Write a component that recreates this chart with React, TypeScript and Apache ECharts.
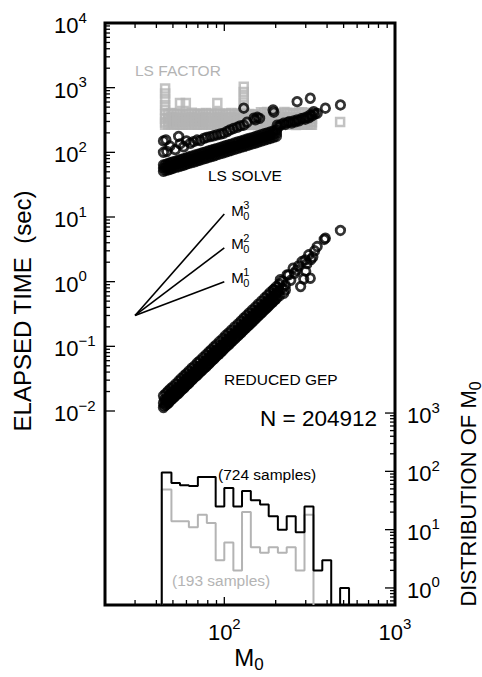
import React, { useEffect, useRef } from 'react';
import * as echarts from 'echarts';

const FONT = '"Liberation Sans", Arial, Helvetica, sans-serif';
const GRAY = '#b4b4b4';

// ---- axis extents ----
const X_MIN = 20;
const X_MAX = 1000;
const T_MIN = 1e-5;
const T_MAX = 1e4;
const D_MIN = 0.51;
const D_MAX = 4.9e9;

const timeLabelExps = [-2, -1, 0, 1, 2, 3, 4];
const distLabelExps = [0, 1, 2, 3];
const m0LabelExps = [2, 3];

const decadeMultipliers = [1, 2, 3, 4, 5, 6, 7, 8, 9];
const xTickDecades = [10, 100];
const timeTickDecades = [0.01, 0.1, 1, 10, 100, 1000];
const distTickDecades = [0.1, 1, 10, 100];

// ---- LS FACTOR (gray squares): columns of [M0, times...] ----
const lsFactorColumns: [number, number[]][] = [
  [45, [970, 810, 660, 540, 450, 385, 330, 290, 268]],
  [47, [395, 340, 300, 270]],
  [49, [405, 350, 305, 272]],
  [51, [390, 335, 298, 268]],
  [53, [400, 345, 302, 270]],
  [55, [580, 395, 338, 298, 267]],
  [57, [385, 332, 295, 268]],
  [59.5, [580, 400, 345, 300, 270]],
  [62, [390, 335, 298, 266]],
  [64.5, [410, 350, 305, 272]],
  [67, [395, 340, 300, 268]],
  [69.5, [385, 332, 296, 267]],
  [72, [400, 345, 302, 270]],
  [75, [390, 336, 298, 266]],
  [78, [405, 348, 304, 271]],
  [81, [392, 338, 297, 268]],
  [84, [400, 344, 300, 269]],
  [87.5, [388, 334, 296, 266]],
  [91, [580, 405, 348, 303, 270]],
  [94.5, [395, 340, 299, 268]],
  [98, [385, 332, 295, 266]],
  [102, [400, 345, 302, 270]],
  [106, [392, 337, 297, 267]],
  [110, [405, 348, 304, 271]],
  [115, [388, 334, 296, 266]],
  [120, [398, 342, 300, 269]],
  [125, [390, 336, 297, 267]],
  [130, [1030, 860, 710, 590, 490, 405, 345, 302, 270]],
  [135, [380, 328, 292, 266]],
  [140, [392, 337, 297, 268]],
  [146, [378, 326, 290, 265]],
  [152, [388, 334, 295, 267]],
  [158, [375, 325, 289, 265]],
  [164, [415, 350, 302, 270]],
  [171, [405, 345, 298, 267]],
  [178, [420, 352, 304, 270]],
  [185, [398, 338, 295, 266]],
  [192, [385, 330, 292, 265]],
  [200, [395, 336, 294, 266]],
  [208, [380, 326, 290, 264]],
  [216, [402, 340, 296, 267]],
  [225, [420, 352, 302, 270]],
  [234, [410, 346, 299, 267]],
  [243, [398, 338, 295, 266]],
  [253, [405, 342, 297, 267]],
  [263, [395, 336, 294, 265]],
  [274, [412, 348, 300, 268]],
  [285, [418, 352, 302, 270]],
  [296, [402, 340, 296, 267]],
  [308, [410, 346, 299, 268]],
  [320, [400, 340, 296, 267]],
  [326, [385, 330, 292, 266]],
  [477, [295]],
];

// ---- LS SOLVE (black circles) ----
const lsSolveBand = [
  [44, 64], [44, 51], [45.5, 65], [45.5, 52.5], [47, 67.5], [47, 53.5], [48.5, 69], [48.5, 55],
  [50, 71], [50, 56.5], [52, 73], [52, 58.5], [54, 75.5], [54, 60], [56, 77.5], [56, 62],
  [58, 80], [58, 63.5], [60, 82], [60, 65.5], [62, 84.5], [62, 67.5], [64.5, 87], [64.5, 69.5],
  [67, 90], [67, 71.5], [69.5, 92.5], [69.5, 74], [72, 95], [72, 76], [75, 98.5], [75, 78.5],
  [78, 101.5], [78, 81], [81, 105], [81, 83.5], [84, 108], [84, 86], [87, 111], [87, 88.5],
  [90, 114], [90, 91], [94, 118], [94, 94.5], [98, 122], [98, 97.5], [102, 126.5], [102, 101],
  [106, 130.5], [106, 104], [110, 134], [110, 107], [115, 139.5], [115, 111], [120, 144.5], [120, 115],
  [125, 149], [125, 119], [130, 154], [130, 123], [135, 159], [135, 126.5], [140, 163.5], [140, 130.5],
  [146, 169], [146, 135], [152, 174.5], [152, 139.5], [158, 181], [158, 144], [165, 187], [165, 149],
  [172, 194], [172, 154.5], [179, 200], [179, 159.5], [186, 206], [186, 164], [194, 213.5], [194, 170],
  [202, 220.5], [202, 176],
  [44, 57], [45.5, 58.6], [47, 60.1], [48.5, 61.7], [50, 63.2], [52, 65.3], [54, 67.3], [56, 69.4],
  [58, 71.4], [60, 73.4], [62, 75.4], [64.5, 77.8], [67, 80.2], [69.5, 82.7], [72, 85.1], [75, 88],
  [78, 90.8], [81, 93.7], [84, 96.5], [87, 99.3], [90, 102], [94, 105.7], [98, 109.3], [102, 113],
  [106, 116.6], [110, 120], [115, 124.5], [120, 129], [125, 133], [130, 137.6], [135, 141.9], [140, 146],
  [146, 151], [152, 156], [158, 161.5], [165, 167], [172, 173], [179, 178.6], [186, 184], [194, 190.7],
  [202, 197],
];
const lsSolveUpper = [
  [44, 100], [44, 150], [45.5, 156], [46, 103], [48, 125], [51.6, 110], [54, 176], [55, 135],
  [57.8, 122], [60, 150], [63.2, 138], [66, 146], [69.2, 155], [72.4, 152], [75.9, 164], [79, 170],
  [82.8, 175], [86.5, 180], [90.6, 186], [95, 192], [99, 197], [104, 210], [108, 222], [113, 233],
  [119, 244], [124, 256], [130, 263], [130, 481], [136, 292], [149, 337], [152, 318], [156, 348],
  [161, 335], [193, 452], [195, 417],
];
const lsSolveCluster = [
  [204, 263], [209, 250], [214, 268], [222, 281], [228, 270], [235, 290], [241, 298], [248, 284],
  [255, 305], [261, 296], [267, 317], [274, 308], [282, 330], [292, 337], [298, 325], [305, 352],
  [312, 342], [319, 378], [326, 365], [334, 426], [338, 390], [350, 400],
  [267, 608], [319, 686], [391, 481], [479, 541],
];

// ---- REDUCED GEP (black circles) ----
const reducedGepBand = [
  [44, 0.0172], [44, 0.0113], [45.5, 0.0188], [45.5, 0.0124], [47, 0.0205], [47, 0.0132],
  [48.5, 0.0222], [48.5, 0.0146], [50, 0.0238], [50, 0.0157], [52, 0.0262], [52, 0.0175],
  [54, 0.029], [54, 0.0188], [56, 0.0318], [56, 0.0209], [58, 0.035], [58, 0.0226],
  [60, 0.0378], [60, 0.025], [62, 0.0415], [62, 0.0268], [64.5, 0.046], [64.5, 0.03],
  [67, 0.05], [67, 0.033], [69.5, 0.0556], [69.5, 0.036], [72, 0.06], [72, 0.0395],
  [75, 0.067], [75, 0.044], [78, 0.074], [78, 0.0482], [81, 0.0815], [81, 0.053],
  [84, 0.089], [84, 0.0585], [87, 0.098], [87, 0.064], [90, 0.106], [90, 0.07],
  [94, 0.119], [94, 0.0775], [98, 0.132], [98, 0.087], [102, 0.148], [102, 0.096],
  [106, 0.161], [106, 0.105], [110, 0.178], [110, 0.117], [115, 0.199], [115, 0.13],
  [120, 0.221], [120, 0.145], [125, 0.246], [125, 0.16], [130, 0.272], [130, 0.179],
  [135, 0.299], [135, 0.195], [140, 0.328], [140, 0.215], [146, 0.365], [146, 0.238],
  [152, 0.405], [152, 0.265], [158, 0.448], [158, 0.293], [165, 0.498], [165, 0.325],
  [172, 0.558], [172, 0.365], [179, 0.615], [179, 0.402], [186, 0.68], [186, 0.445],
  [194, 0.755], [194, 0.495], [202, 0.835], [202, 0.548], [210, 0.92], [210, 0.605],
  [219, 1.02], [228, 0.745], [238, 1.27],
  [44, 0.0133], [45.5, 0.0144], [47, 0.0157], [48.5, 0.017], [50, 0.0184], [52, 0.0203],
  [54, 0.0223], [56, 0.0245], [58, 0.0268], [60, 0.0293], [62, 0.0318], [64.5, 0.0353],
  [67, 0.0388], [69.5, 0.0427], [72, 0.0466], [75, 0.0517], [78, 0.0571], [81, 0.0628],
  [84, 0.069], [87, 0.0758], [90, 0.0824], [94, 0.092], [98, 0.1026], [102, 0.114],
  [106, 0.1245], [110, 0.1378], [115, 0.154], [120, 0.171], [125, 0.19], [130, 0.211],
  [135, 0.231], [140, 0.254], [146, 0.282], [152, 0.314], [158, 0.347], [165, 0.385],
  [172, 0.431], [179, 0.476], [186, 0.525], [194, 0.584], [202, 0.647], [210, 0.714],
  [219, 0.793], [228, 0.883],
];
const reducedGepFill = [
  [44.7, 0.015], [44.7, 0.012], [46.2, 0.0163], [46.2, 0.013], [47.7, 0.0177], [47.7, 0.0141],
  [49.2, 0.0192], [49.2, 0.0153], [51, 0.0208], [51, 0.0166], [53, 0.0229], [53, 0.0183],
  [55, 0.0252], [55, 0.0201], [57, 0.0277], [57, 0.0221], [59, 0.0303], [59, 0.0241],
  [61, 0.0331], [61, 0.0264], [63.2, 0.0359], [63.2, 0.0286], [65.7, 0.0399], [65.7, 0.0318],
  [68.2, 0.0438], [68.2, 0.0349], [70.7, 0.0483], [70.7, 0.0384], [73.5, 0.0527], [73.5, 0.0419],
  [76.5, 0.0584], [76.5, 0.0465], [79.5, 0.0645], [79.5, 0.0514], [82.5, 0.071], [82.5, 0.0565],
  [85.5, 0.078], [85.5, 0.0621], [88.5, 0.0857], [88.5, 0.0682], [92, 0.0931], [92, 0.0742],
  [96, 0.104], [96, 0.0828], [100, 0.116], [100, 0.0923], [104, 0.129], [104, 0.1026],
  [108, 0.141], [108, 0.112], [112.5, 0.156], [112.5, 0.124], [117.5, 0.174], [117.5, 0.139],
  [122.5, 0.193], [122.5, 0.154], [127.5, 0.215], [127.5, 0.171], [132.5, 0.238], [132.5, 0.19],
  [137.5, 0.261], [137.5, 0.208], [143, 0.287], [143, 0.229], [149, 0.319], [149, 0.254],
  [155, 0.355], [155, 0.283], [161.5, 0.392], [161.5, 0.312], [168.5, 0.435], [168.5, 0.347],
  [175.5, 0.487], [175.5, 0.388], [182.5, 0.538], [182.5, 0.428], [190, 0.593], [190, 0.473],
  [198, 0.66], [198, 0.526], [206, 0.731],
];
const reducedGepSparse = [
  [253, 1.62], [258, 1.35], [265, 1.5], [272, 1.75], [280, 0.84], [286, 2.05], [292, 1.1],
  [298, 2.17], [300, 1.45], [305, 1.9], [312, 2.6], [319, 1.13], [322, 2.2], [330, 2.4],
  [338, 3.0], [350, 3.49], [385, 4.5], [391, 4.7], [479, 6.2], [233, 1.27], [213, 1.07],
  [195, 0.75], [223, 0.66], [245, 1.05],
];

// ---- slope guides ----
const slopeStart = [30, 0.3];
const slopePowers = [1, 2, 3];
const slopeEnds = [[100, 1.0], [100, 3.33], [100, 11.1]];

// ---- histograms of M0 ----
const binEdges = [43, 49, 55, 62, 70, 79, 89, 100, 113, 127, 143, 162, 182, 206, 232, 262, 295, 333, 375, 423, 477, 538];
const countsAll = [96, 63, 58, 56, 80, 80, 25, 52, 25, 46, 32, 27, 17, 10, 17, 9, 25, 2, 3, 0, 1];
const countsSub = [49, 14, 14, 11, 18, 13, 3, 6, 2, 20, 5, 4, 5, 4, 5, 2, 18, 0, 0, 0, 0];

function stepOutline(edges: number[], counts: number[], floor: number) {
  let last = counts.length - 1;
  while (last >= 0 && counts[last] === 0) last--;
  const pts: number[][] = [[edges[0], floor]];
  for (let i = 0; i <= last; i++) {
    const c = counts[i] > 0 ? counts[i] : floor;
    pts.push([edges[i], c], [edges[i + 1], c]);
  }
  pts.push([edges[last + 1], floor]);
  return pts;
}

function tickValues(decades: number[]) {
  const out: number[] = [];
  decades.forEach((d) => decadeMultipliers.forEach((m) => out.push(+(d * m).toPrecision(6))));
  return out;
}

function isDecade(v: number) {
  const l = Math.log10(v);
  return Math.abs(l - Math.round(l)) < 1e-6;
}

const powRich = {
  b: { fontSize: 22, fontFamily: FONT, color: '#000', verticalAlign: 'bottom' },
  s: { fontSize: 15, fontFamily: FONT, color: '#000', verticalAlign: 'bottom', padding: [0, 0, 12, 0] },
};
function powFormatter(allowed: number[]) {
  return (v: number) => {
    const l = Math.log10(v);
    const e = Math.round(l);
    if (Math.abs(l - e) > 1e-6 || allowed.indexOf(e) < 0) return '';
    return `{b|10}{s|${e < 0 ? '\u2212' + -e : e}}`;
  };
}

const tickStyle = { stroke: '#000', lineWidth: 1.3 };

function buildOption() {
  const lsFactor: number[][] = [];
  lsFactorColumns.forEach(([m, ts]) => ts.forEach((t) => lsFactor.push([m, t])));
  const lsSolve = [...lsSolveBand, ...lsSolveUpper, ...lsSolveCluster];
  const reducedGep = [...reducedGepBand, ...reducedGepFill, ...reducedGepSparse];
  const circleStyle = { color: 'rgba(0,0,0,0)', borderColor: '#000', borderWidth: 2.8 };

  const xTicks = tickValues(xTickDecades).filter((v) => v > X_MIN && v < X_MAX);
  const tTicks = [...tickValues(timeTickDecades), 10000];
  const dTicks = [...tickValues(distTickDecades).filter((v) => v > D_MIN), 1000];

  const series: any[] = [
    {
      type: 'scatter', data: lsFactor, symbol: 'rect', symbolSize: 8, silent: true, z: 2,
      itemStyle: { color: 'rgba(0,0,0,0)', borderColor: GRAY, borderWidth: 2.5 },
    },
    { type: 'scatter', data: lsSolve, symbol: 'circle', symbolSize: 8.5, silent: true, z: 3, itemStyle: circleStyle },
    { type: 'scatter', data: reducedGep, symbol: 'circle', symbolSize: 8.5, silent: true, z: 3, itemStyle: circleStyle },
  ];
  slopeEnds.forEach((end) => {
    series.push({
      type: 'line', data: [slopeStart, end], symbol: 'none', silent: true, z: 3,
      lineStyle: { color: '#000', width: 1.6 },
    });
  });
  series.push(
    {
      type: 'line', yAxisIndex: 1, data: stepOutline(binEdges, countsSub, D_MIN), symbol: 'none', silent: true, z: 3,
      lineStyle: { color: GRAY, width: 2 },
    },
    {
      type: 'line', yAxisIndex: 1, data: stepOutline(binEdges, countsAll, D_MIN), symbol: 'none', silent: true, z: 4,
      lineStyle: { color: '#000', width: 2 },
    },
    {
      // bottom & top minor/major ticks of M0 axis
      type: 'custom', xAxisIndex: 0, yAxisIndex: 0, silent: true, clip: false, z: 10,
      data: xTicks.map((v) => [v, 1]),
      renderItem: (params: any, api: any) => {
        const cs = params.coordSys;
        const v = api.value(0);
        const px = api.coord([v, 1])[0];
        const len = isDecade(v) ? 8 : 5;
        const yb = cs.y + cs.height;
        return {
          type: 'group',
          children: [
            { type: 'line', shape: { x1: px, y1: yb, x2: px, y2: yb - len }, style: tickStyle },
            { type: 'line', shape: { x1: px, y1: cs.y, x2: px, y2: cs.y + len }, style: tickStyle },
          ],
        };
      },
    },
    {
      // left ticks of time axis
      type: 'custom', xAxisIndex: 0, yAxisIndex: 0, silent: true, clip: false, z: 10,
      data: tTicks.map((v) => [100, v]),
      renderItem: (params: any, api: any) => {
        const cs = params.coordSys;
        const v = api.value(1);
        const py = api.coord([100, v])[1];
        const len = isDecade(v) ? 10 : 5;
        return { type: 'line', shape: { x1: cs.x, y1: py, x2: cs.x + len, y2: py }, style: tickStyle };
      },
    },
    {
      // right ticks of distribution axis
      type: 'custom', xAxisIndex: 0, yAxisIndex: 1, silent: true, clip: false, z: 10,
      data: dTicks.map((v) => [100, v]),
      renderItem: (params: any, api: any) => {
        const cs = params.coordSys;
        const v = api.value(1);
        const py = api.coord([100, v])[1];
        const len = isDecade(v) ? 10 : 5;
        const xr = cs.x + cs.width;
        return { type: 'line', shape: { x1: xr, y1: py, x2: xr - len, y2: py }, style: tickStyle };
      },
    },
  );

  return {
    animation: false,
    backgroundColor: '#fff',
    grid: { left: 105, top: 23, width: 290, height: 582, show: true, borderColor: '#000', borderWidth: 3, backgroundColor: 'rgba(0,0,0,0)' },
    xAxis: {
      type: 'log', logBase: 10, min: X_MIN, max: X_MAX, splitNumber: 2,
      axisLine: { show: false }, axisTick: { show: false }, splitLine: { show: false },
      axisLabel: { formatter: powFormatter(m0LabelExps), rich: powRich, margin: 11, showMinLabel: true, showMaxLabel: true },
    },
    yAxis: [
      {
        type: 'log', logBase: 10, min: T_MIN, max: T_MAX, splitNumber: 9, position: 'left',
        axisLine: { show: false }, axisTick: { show: false }, splitLine: { show: false },
        axisLabel: { formatter: powFormatter(timeLabelExps), rich: powRich, margin: 51, align: 'left', showMinLabel: true, showMaxLabel: true },
      },
      {
        type: 'log', logBase: 10, min: D_MIN, max: D_MAX, splitNumber: 10, position: 'right',
        axisLine: { show: false }, axisTick: { show: false }, splitLine: { show: false },
        axisLabel: { formatter: powFormatter(distLabelExps), rich: powRich, margin: 12, showMinLabel: true, showMaxLabel: true },
      },
    ],
    series,
  };
}

function txt(text: string, x: number, y: number, size: number, color = '#000', align = 'left') {
  return {
    type: 'text', x, y, silent: true,
    style: { text, fontSize: size, fontFamily: FONT, fill: color, align, verticalAlign: 'middle' },
  };
}

function subRich(size: number, subSize: number, drop: number) {
  return {
    a: { fontSize: size, fontFamily: FONT, fill: '#000', verticalAlign: 'top' },
    b: { fontSize: subSize, fontFamily: FONT, fill: '#000', verticalAlign: 'top', padding: [drop, 0, 0, 0] },
  };
}

function buildGraphic(chart: any) {
  const els: any[] = [
    txt('LS FACTOR', 135, 70, 15.5, GRAY),
    txt('LS SOLVE', 208, 175, 15.5),
    txt('REDUCED GEP', 224, 379, 15.5),
    txt('N = 204912', 260, 418, 22.5),
    txt('(724 samples)', 218, 474, 15.5),
    txt('(193 samples)', 172, 580, 15.5, GRAY),
    {
      type: 'text', x: 22, y: 311, rotation: Math.PI / 2, silent: true,
      style: { text: 'ELAPSED TIME \u00a0(sec)', fontSize: 24, fontFamily: FONT, fill: '#000', align: 'center', verticalAlign: 'middle' },
    },
    {
      type: 'text', x: 249, y: 659, silent: true,
      style: { text: '{a|M}{b|0}', rich: subRich(24, 17, 11), fill: '#000', align: 'center', verticalAlign: 'middle' },
    },
    {
      type: 'text', x: 470, y: 494, rotation: Math.PI / 2, silent: true,
      style: { text: '{a|DISTRIBUTION OF M}{b|0}', rich: subRich(22, 16, 10), fill: '#000', align: 'center', verticalAlign: 'middle' },
    },
  ];
  slopePowers.forEach((k, i) => {
    const p = chart.convertToPixel({ seriesIndex: 3 + i }, slopeEnds[i]);
    if (!p) return;
    const [ex, ey] = p;
    els.push(txt('M', ex + 7, ey - 4, 15));
    els.push(txt(String(k), ex + 19, ey - 9.5, 11));
    els.push(txt('0', ex + 19, ey + 1.5, 11));
  });
  return els;
}

export default function App() {
  const ref = useRef<HTMLDivElement>(null);
  useEffect(() => {
    if (!ref.current) return;
    const chart = echarts.init(ref.current, null, { renderer: 'svg', width: 482, height: 677 });
    chart.setOption(buildOption() as any);
    chart.setOption({ graphic: { elements: buildGraphic(chart) } } as any);
    return () => chart.dispose();
  }, []);
  return (
    <div
      ref={ref}
      style={{ position: 'fixed', left: 0, top: 0, width: 482, height: 677, background: '#fff' }}
    />
  );
}
